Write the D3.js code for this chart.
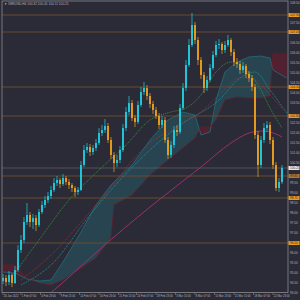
<!DOCTYPE html>
<meta charset="utf-8">
<html>
<head>
  <title>XBRUSD H4</title>
  <style>
    body { margin: 0; background: #2b2b37; }
    svg { display: block; }
  </style>
</head>
<body>
  <svg id="chart" width="300" height="300"></svg>

  <script src="https://d3js.org/d3.v7.min.js"></script>
  <script>

    // candles (open of each bar = previous close)
    var firstOpen = 94.60
    var closes = [94.75, 94.55, 94.90, 94.50, 95.15, 96.15, 96.65, 97.55, 97.90, 97.55,
      97.75, 97.40, 98.05, 98.40, 98.65, 98.85, 99.15, 99.50, 99.65, 99.45,
      99.75, 99.55, 99.40, 99.25, 99.05, 99.15, 100.40, 101.15, 101.30, 101.05,
      101.25, 101.50, 102.00, 102.15, 102.35, 101.65, 100.90, 100.50, 100.65, 101.15,
      102.25, 103.05, 103.50, 102.75, 102.55, 103.40, 104.05, 104.25, 103.85, 103.45,
      103.15, 102.85, 102.40, 102.65, 101.65, 100.90, 101.40, 102.15, 102.05, 103.25,
      104.25, 105.40, 106.40, 107.40, 106.65, 105.65, 104.90, 104.25, 104.65, 105.25,
      105.90, 106.40, 106.45, 106.15, 106.40, 106.65, 106.05, 105.55, 105.45, 105.15,
      105.35, 104.95, 104.75, 104.30, 101.90, 100.40, 101.65, 102.25, 102.40, 101.65,
      100.40, 99.25, 99.55, 100.25]
    var highs = [94.95, 94.90, 95.10, 95.00, 95.35, 96.40, 96.90, 97.80, 98.50, 98.05,
      97.95, 97.90, 98.20, 98.60, 98.85, 99.05, 99.35, 99.75, 99.85, 99.75,
      99.95, 99.85, 99.70, 99.50, 99.35, 99.30, 100.60, 101.40, 101.50, 101.45,
      101.40, 101.70, 102.25, 102.40, 102.70, 102.50, 101.80, 101.05, 100.90, 101.35,
      102.45, 103.30, 103.85, 103.65, 102.90, 103.60, 104.30, 104.55, 104.40, 104.00,
      103.60, 103.30, 103.00, 102.85, 102.80, 101.80, 101.60, 102.35, 102.40, 103.45,
      104.50, 105.65, 106.70, 108.00, 107.55, 106.80, 105.80, 105.05, 104.85, 105.45,
      106.10, 106.60, 106.70, 106.55, 106.60, 106.90, 106.75, 106.20, 105.75, 105.60,
      105.55, 105.45, 105.10, 104.90, 104.45, 102.10, 101.85, 102.50, 102.60, 102.55,
      101.80, 100.55, 99.75, 100.40]
    var lows = [94.45, 94.35, 94.40, 94.30, 94.45, 95.05, 96.00, 96.50, 97.40, 97.30,
      97.20, 97.10, 97.30, 97.95, 98.25, 98.50, 98.70, 99.05, 99.35, 99.25,
      99.35, 99.40, 99.20, 99.05, 98.80, 98.90, 99.10, 100.30, 101.00, 100.85,
      100.90, 101.10, 101.40, 101.85, 102.00, 101.50, 100.70, 100.05, 100.30, 100.50,
      101.05, 102.10, 102.90, 102.60, 102.30, 102.45, 103.30, 103.90, 103.65, 103.25,
      102.95, 102.70, 102.20, 102.25, 101.50, 100.70, 100.75, 101.25, 101.85, 101.95,
      103.15, 104.10, 105.30, 106.30, 106.45, 105.40, 104.70, 104.00, 104.10, 104.55,
      105.15, 105.80, 106.20, 105.95, 106.00, 106.30, 105.85, 105.35, 105.25, 104.95,
      105.00, 104.75, 104.55, 104.10, 101.70, 99.80, 100.25, 101.50, 102.05, 101.45,
      100.20, 99.10, 99.05, 99.45]

    // indicator lines as [bar index, price]
    var maGreen = [[3, 94.80], [12, 96.65], [22, 98.65], [32, 100.15], [41, 101.40], [49, 102.65],
      [56, 103.05], [61, 103.25], [66, 103.90], [71, 105.05], [76, 105.55], [81, 105.15],
      [86, 104.15], [89, 103.25], [93, 102.25]]
    var maRed = [[6, 94.65], [16, 95.90], [31, 98.40], [49, 101.50], [57, 102.25], [66, 103.05],
      [72, 103.90], [79, 104.75], [84, 104.65], [89, 103.90], [93, 103.25]]
    var maTeal = [[6, 94.40], [16, 95.40], [29, 97.90], [39, 99.65], [49, 101.15], [59, 102.40],
      [72, 103.65], [79, 104.75], [84, 105.05], [89, 104.15], [94.6, 103.00]]
    var maLong = [[11, 93.40], [19, 94.40], [32, 96.15], [49, 98.30], [66, 100.30], [76, 101.50],
      [82, 102.00], [86, 102.10], [91, 101.95], [93, 101.80]]

    // ichimoku cloud
    var cloudIdx = [0, 4, 8, 12, 16, 20, 26, 31, 36, 37, 43, 49, 55, 60, 64, 66, 69, 71, 74, 78, 82, 86, 89, 90, 94.6]
    var spanA = [95.05, 95.00, 94.70, 94.60, 94.65, 95.55, 97.05, 98.40, 99.40, 99.55, 100.40, 101.65,
      102.65, 103.05, 102.90, 101.90, 102.05, 103.65, 105.05, 105.55, 105.80, 105.85, 105.75, 105.15, 104.75]
    var spanB = [95.40, 95.40, 94.75, 94.50, 94.40, 94.65, 95.25, 95.75, 96.75, 98.40, 98.90, 99.90,
      100.65, 101.25, 101.75, 102.30, 102.30, 102.65, 103.65, 103.80, 103.75, 103.75, 103.85, 105.95, 105.95]

    // support / resistance levels and current price
    var levels = [107.90, 107.05, 104.30, 102.85, 99.85, 98.75, 96.50]
    var bid = 100.25

    var timeIdx = [0, 6, 12.5, 19, 25.5, 32, 38.5, 44.5, 51, 57.5, 64, 70.5, 77, 83.5, 90]
    var timeLabels = ["26 Jan 2022", "1 Feb 07:00", "4 Feb 23:00", "9 Feb 15:00", "14 Feb 07:00",
      "16 Feb 23:00", "21 Feb 15:00", "24 Feb 07:00", "28 Feb 23:00", "3 Mar 15:00", "8 Mar 07:00",
      "10 Mar 23:00", "15 Mar 15:00", "18 Mar 07:00", "22 Mar 23:00"]
    var titleText = "\u25BC XBRUSD,H4  100.32 100.45 100.11 100.25"

    var svg = d3.select("#chart")
    var pLeft = 2, pRight = 288, pTop = 1, pBottom = 292.5
    var font = "Liberation Sans"

    var x = d3.scaleLinear().domain([0, 94.67]).range([3, 287])
    var y = d3.scaleLinear().domain([94, 108.55]).range([293, 2])

    svg.append("rect").attr("width", 300).attr("height", 300).attr("fill", "#2b2b37")

    svg.append("defs").append("clipPath").attr("id", "plotclip")
      .append("rect").attr("x", pLeft).attr("y", pTop).attr("width", pRight - pLeft).attr("height", pBottom - pTop)

    var plot = svg.append("g").attr("clip-path", "url(#plotclip)")

    // cloud fill, split where the spans cross
    var cloud = plot.append("g")
    for (var k = 0; k < cloudIdx.length - 1; k++) {
      var x0 = cloudIdx[k], x1 = cloudIdx[k + 1]
      var d0 = spanA[k] - spanB[k], d1 = spanA[k + 1] - spanB[k + 1]
      var pieces = []
      if (d0 * d1 >= 0) {
        pieces.push({ a: [x0, spanA[k], spanB[k]], b: [x1, spanA[k + 1], spanB[k + 1]], up: (d0 + d1) >= 0 })
      } else {
        var t = d0 / (d0 - d1)
        var xm = x0 + t * (x1 - x0), pm = spanA[k] + t * (spanA[k + 1] - spanA[k])
        pieces.push({ a: [x0, spanA[k], spanB[k]], b: [xm, pm, pm], up: d0 > 0 })
        pieces.push({ a: [xm, pm, pm], b: [x1, spanA[k + 1], spanB[k + 1]], up: d1 > 0 })
      }
      pieces.forEach(function (p) {
        var pts = [[x(p.a[0]), y(p.a[1])], [x(p.b[0]), y(p.b[1])], [x(p.b[0]), y(p.b[2])], [x(p.a[0]), y(p.a[2])]]
        cloud.append("polygon")
          .attr("points", pts.map(function (q) { return q.join(",") }).join(" "))
          .attr("fill", p.up ? "rgba(32,160,175,0.22)" : "rgba(140,20,40,0.4)")
          .attr("stroke", "none")
      })
    }
    var spanLine = d3.line().x(function (d) { return x(d[0]) }).y(function (d) { return y(d[1]) })
    cloud.append("path")
      .attr("d", spanLine(cloudIdx.map(function (c, i) { return [c, spanA[i]] })))
      .attr("fill", "none").attr("stroke", "#23808c").attr("stroke-width", 0.6)
    cloud.append("path")
      .attr("d", spanLine(cloudIdx.map(function (c, i) { return [c, spanB[i]] })))
      .attr("fill", "none").attr("stroke", "#6e1a24").attr("stroke-width", 0.7)

    // level lines
    plot.selectAll(".level")
      .data(levels)
      .enter()
      .append("line")
      .attr("x1", pLeft).attr("x2", pRight)
      .attr("y1", function (d) { return y(d) }).attr("y2", function (d) { return y(d) })
      .attr("stroke", "#6a4a32").attr("stroke-width", 1)

    plot.append("line")
      .attr("x1", pLeft).attr("x2", pRight).attr("y1", y(bid)).attr("y2", y(bid))
      .attr("stroke", "#62626c").attr("stroke-width", 0.7)

    // moving averages
    var maLine = d3.line().x(function (d) { return x(d[0]) }).y(function (d) { return y(d[1]) }).curve(d3.curveMonotoneX)
    plot.append("path").attr("d", maLine(maLong)).attr("fill", "none").attr("stroke", "#a8306e").attr("stroke-width", 0.9)
    plot.append("path").attr("d", maLine(maTeal)).attr("fill", "none").attr("stroke", "#1f9fae").attr("stroke-width", 0.8).style("stroke-dasharray", "1,1")
    plot.append("path").attr("d", maLine(maRed)).attr("fill", "none").attr("stroke", "#a8322c").attr("stroke-width", 0.8).style("stroke-dasharray", "1,1")
    plot.append("path").attr("d", maLine(maGreen)).attr("fill", "none").attr("stroke", "#3aa43e").attr("stroke-width", 0.8).style("stroke-dasharray", "1,1")

    // candles
    var bars = closes.map(function (c, i) {
      return { i: i, o: i === 0 ? firstOpen : closes[i - 1], c: c, h: highs[i], l: lows[i] }
    })
    var candle = plot.selectAll(".candle")
      .data(bars)
      .enter()
      .append("g")
    candle.append("line")
      .attr("x1", function (d) { return x(d.i) }).attr("x2", function (d) { return x(d.i) })
      .attr("y1", function (d) { return y(d.h) }).attr("y2", function (d) { return y(d.l) })
      .attr("stroke", function (d) { return d.c >= d.o ? "#1fd0e2" : "#eea21f" })
      .attr("stroke-width", 0.7)
    candle.append("rect")
      .attr("x", function (d) { return x(d.i) - 0.9 })
      .attr("width", 1.8)
      .attr("y", function (d) { return y(Math.max(d.o, d.c)) })
      .attr("height", function (d) { return Math.max(0.8, Math.abs(y(d.o) - y(d.c))) })
      .attr("fill", function (d) { return d.c >= d.o ? "#1fd0e2" : "#eea21f" })

    // frame
    svg.append("rect")
      .attr("x", pLeft).attr("y", pTop).attr("width", pRight - pLeft).attr("height", pBottom - pTop)
      .attr("fill", "none").attr("stroke", "#8a8a92").attr("stroke-width", 0.8)

    // price axis (tick labels hidden behind the tags are skipped)
    var tagged = levels.concat([bid])
    var priceTicks = d3.range(94, 108.6, 0.5).filter(function (p) {
      return tagged.every(function (t) { return Math.abs(y(t) - y(p)) > 4 })
    })
    svg.selectAll(".ptick")
      .data(priceTicks)
      .enter()
      .append("text")
      .attr("x", 290).attr("y", function (d) { return y(d) })
      .attr("dy", "0.35em")
      .text(function (d) { return d3.format(".2f")(d) })
      .style("font-family", font).style("font-size", "3.1px").attr("fill", "#b4b4bc")

    var tag = svg.selectAll(".ltag").data(levels).enter().append("g")
    tag.append("rect")
      .attr("x", 288.5).attr("width", 11).attr("height", 4)
      .attr("y", function (d) { return y(d) - 2 })
      .attr("fill", function (d, i) { return i === 4 ? "#b07a2a" : "#e89a1c" })
    tag.append("text")
      .attr("x", 290).attr("y", function (d) { return y(d) }).attr("dy", "0.35em")
      .text(function (d) { return d3.format(".2f")(d) })
      .style("font-family", font).style("font-size", "3.1px").attr("fill", "#2b2b37")

    svg.append("rect").attr("x", 288.5).attr("width", 11).attr("height", 4)
      .attr("y", y(bid) - 2).attr("fill", "#e8e8ec")
    svg.append("text").attr("x", 290).attr("y", y(bid)).attr("dy", "0.35em")
      .text(d3.format(".2f")(bid))
      .style("font-family", font).style("font-size", "3.1px").attr("fill", "#2b2b37")

    // time axis
    svg.selectAll(".ttick")
      .data(timeIdx)
      .enter()
      .append("line")
      .attr("x1", function (d) { return x(d) }).attr("x2", function (d) { return x(d) })
      .attr("y1", pBottom).attr("y2", pBottom + 2.5)
      .attr("stroke", "#8a8a92").attr("stroke-width", 0.6)
    svg.selectAll(".tlabel")
      .data(timeIdx)
      .enter()
      .append("text")
      .attr("x", function (d) { return x(d) + 0.8 })
      .attr("y", 297.3)
      .text(function (d, i) { return timeLabels[i] })
      .style("font-family", font).style("font-size", "2.7px").attr("fill", "#b4b4bc")

    // title
    svg.append("text")
      .attr("x", 4).attr("y", 4.8)
      .text(titleText)
      .style("font-family", font).style("font-size", "3.2px").attr("fill", "#b4b4bc")

  </script>
</body>
</html>
